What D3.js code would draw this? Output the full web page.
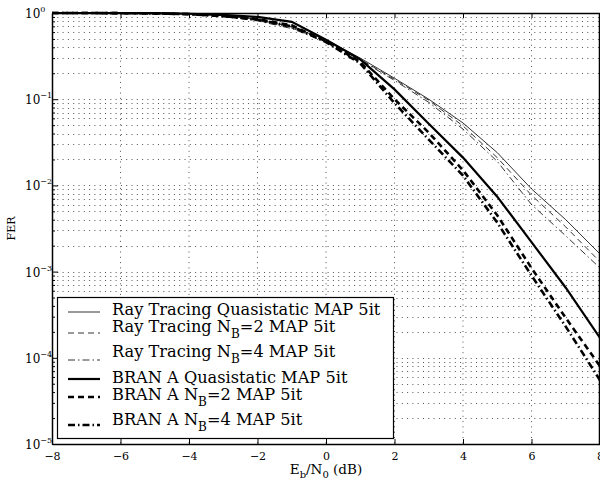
<!DOCTYPE html>
<html>
<head>
<meta charset="utf-8">
<script src="https://cdn.jsdelivr.net/npm/d3@7"></script>
<style>
  body { margin: 0; background: #fff; }
  text { font-family: "DejaVu Serif", serif; }
</style>
</head>
<body>
<script>
// data
var ebno = [-8, -7, -6, -5, -4, -3, -2, -1, 0, 1, 2, 3, 4, 5, 6, 7, 8];
var rtQuasi = [1, 1, 0.998, 0.993, 0.975, 0.93, 0.84, 0.69, 0.49, 0.30, 0.175, 0.10, 0.053, 0.024, 0.0091, 0.0040, 0.0016];
var rtNB2 = [1, 1, 0.997, 0.99, 0.97, 0.92, 0.82, 0.67, 0.47, 0.29, 0.17, 0.097, 0.049, 0.021, 0.0077, 0.0033, 0.0013];
var rtNB4 = [1, 1, 0.997, 0.99, 0.97, 0.91, 0.81, 0.66, 0.46, 0.285, 0.165, 0.092, 0.045, 0.019, 0.0060, 0.0026, 0.0011];
var branQuasi = [1, 1, 1, 0.995, 0.98, 0.95, 0.9, 0.79, 0.49, 0.29, 0.13, 0.052, 0.021, 0.0074, 0.0022, 0.00065, 0.00017];
var branNB2 = [1, 1, 0.995, 0.99, 0.97, 0.92, 0.85, 0.72, 0.47, 0.27, 0.10, 0.041, 0.015, 0.0045, 0.0011, 0.00029, 0.00008];
var branNB4 = [1, 1, 0.995, 0.99, 0.97, 0.92, 0.84, 0.70, 0.46, 0.26, 0.09, 0.034, 0.013, 0.0037, 0.0009, 0.00023, 0.000055];

var xTicks = [-8, -6, -4, -2, 0, 2, 4, 6, 8];
var yExps = [0, -1, -2, -3, -4, -5];

var series = [
  { name: "Ray Tracing Quasistatic MAP 5it", sub: null, vals: rtQuasi, w: 0.8, dash: null },
  { name: "Ray Tracing N", sub: "B", rest: "=2 MAP 5it", vals: rtNB2, w: 0.8, dash: "6,4" },
  { name: "Ray Tracing N", sub: "B", rest: "=4 MAP 5it", vals: rtNB4, w: 0.8, dash: "7,3,1.5,3" },
  { name: "BRAN A Quasistatic MAP 5it", sub: null, vals: branQuasi, w: 2.2, dash: null },
  { name: "BRAN A N", sub: "B", rest: "=2 MAP 5it", vals: branNB2, w: 2.6, dash: "6,4" },
  { name: "BRAN A N", sub: "B", rest: "=4 MAP 5it", vals: branNB4, w: 2.6, dash: "7,3,1.5,3" }
];

var width = 600, height = 481;
var pLeft = 52, pRight = 600, pTop = 13, pBottom = 444;

var x = d3.scaleLinear().domain([-8, 8]).range([pLeft, pRight]);
var y = d3.scaleLog().domain([1e-5, 1]).range([pBottom, pTop]);

var svg = d3.select("body").append("svg")
  .attr("width", width)
  .attr("height", height);

// grid
var minorVals = [];
yExps.forEach(function (e) {
  if (e === 0) return;
  for (var k = 2; k <= 9; k++) minorVals.push(k * Math.pow(10, e));
});

var grid = svg.append("g")
  .attr("stroke", "#555")
  .attr("stroke-width", 1)
  .attr("stroke-dasharray", "1,4.3");

grid.selectAll(".gx").data(xTicks.slice(1, -1)).enter().append("line")
  .attr("x1", function (d) { return x(d); }).attr("x2", function (d) { return x(d); })
  .attr("y1", pTop).attr("y2", pBottom);

grid.selectAll(".gy").data(yExps.slice(1, -1).map(function (e) { return Math.pow(10, e); }).concat(minorVals)).enter().append("line")
  .attr("x1", pLeft).attr("x2", pRight)
  .attr("y1", function (d) { return Math.round(y(d)) + 0.5; }).attr("y2", function (d) { return Math.round(y(d)) + 0.5; });

// curves
var line = d3.line()
  .x(function (d) { return x(d[0]); })
  .y(function (d) { return y(d[1]); });

series.forEach(function (s) {
  svg.append("path")
    .datum(ebno.map(function (v, i) { return [v, s.vals[i]]; }))
    .attr("fill", "none")
    .attr("stroke", "#000")
    .attr("stroke-width", s.w)
    .attr("stroke-dasharray", s.dash)
    .attr("d", line);
});

// axes box
var axB = svg.append("g").attr("transform", "translate(0," + pBottom + ")")
  .call(d3.axisBottom(x).tickValues(xTicks).tickSizeInner(-5).tickSizeOuter(0)
    .tickFormat(function (d) { return d < 0 ? "\u2212" + (-d) : d; }));
axB.select(".domain").attr("stroke-width", 1.5);
axB.selectAll(".tick text").attr("y", 8).style("font-size", "11px").attr("fill", "#000");

var axT = svg.append("g").attr("transform", "translate(0," + pTop + ")")
  .call(d3.axisTop(x).tickValues(xTicks).tickSizeInner(-5).tickSizeOuter(0).tickFormat(""));
axT.select(".domain").attr("stroke-width", 1.5);

var axL = svg.append("g").attr("transform", "translate(" + pLeft + ",0)")
  .call(d3.axisLeft(y).tickValues(yExps.map(function (e) { return Math.pow(10, e); }))
    .tickSizeInner(-6).tickSizeOuter(0).tickFormat(""));
axL.select(".domain").attr("stroke-width", 1.5);

svg.append("g").attr("transform", "translate(" + pLeft + ",0)")
  .call(d3.axisLeft(y).tickValues(minorVals).tickSizeInner(-3).tickSizeOuter(0).tickFormat(""))
  .select(".domain").remove();

svg.append("line")
  .attr("x1", pRight - 0.5).attr("x2", pRight - 0.5)
  .attr("y1", pTop).attr("y2", pBottom)
  .attr("stroke", "#000").attr("stroke-width", 1.5);

// y tick labels 10^e
yExps.forEach(function (e) {
  var t = svg.append("text")
    .attr("x", 25)
    .attr("y", y(Math.pow(10, e)) + 5)
    .style("font-size", "12px");
  t.append("tspan").text("10");
  t.append("tspan").attr("dy", -6).style("font-size", "8px")
    .text(e === 0 ? "0" : "\u2212" + (-e));
});

// axis labels
svg.append("text")
  .attr("transform", "translate(15," + ((pTop + pBottom) / 2) + ") rotate(-90)")
  .attr("text-anchor", "middle")
  .style("font-size", "11px")
  .text("FER");

var xl = svg.append("text")
  .attr("x", 326).attr("y", 474)
  .attr("text-anchor", "middle")
  .style("font-size", "13.5px");
xl.append("tspan").text("E");
xl.append("tspan").attr("dy", 4).style("font-size", "10px").text("b");
xl.append("tspan").attr("dy", -4).text("/N");
xl.append("tspan").attr("dy", 4).style("font-size", "10px").text("0");
xl.append("tspan").attr("dy", -4).text(" (dB)");

// legend
var lg = svg.append("g");
lg.append("rect")
  .attr("x", 57.5).attr("y", 297.5)
  .attr("width", 336).attr("height", 141)
  .attr("fill", "#fff").attr("stroke", "#000").attr("stroke-width", 1.2);

var sampleY = [312, 333, 360, 379, 397, 425];
var textY = [315, 332, 357, 383, 400, 425];

series.forEach(function (s, i) {
  lg.append("line")
    .attr("x1", 68).attr("x2", 100)
    .attr("y1", sampleY[i]).attr("y2", sampleY[i])
    .attr("stroke", "#000")
    .attr("stroke-width", s.w)
    .attr("stroke-dasharray", s.dash);
  var t = lg.append("text")
    .attr("x", 112).attr("y", textY[i])
    .style("font-size", "16.2px");
  t.append("tspan").text(s.name);
  if (s.sub) {
    t.append("tspan").attr("dy", 6).style("font-size", "12px").text(s.sub);
    t.append("tspan").attr("dy", -6).text(s.rest);
  }
});
</script>
</body>
</html>
